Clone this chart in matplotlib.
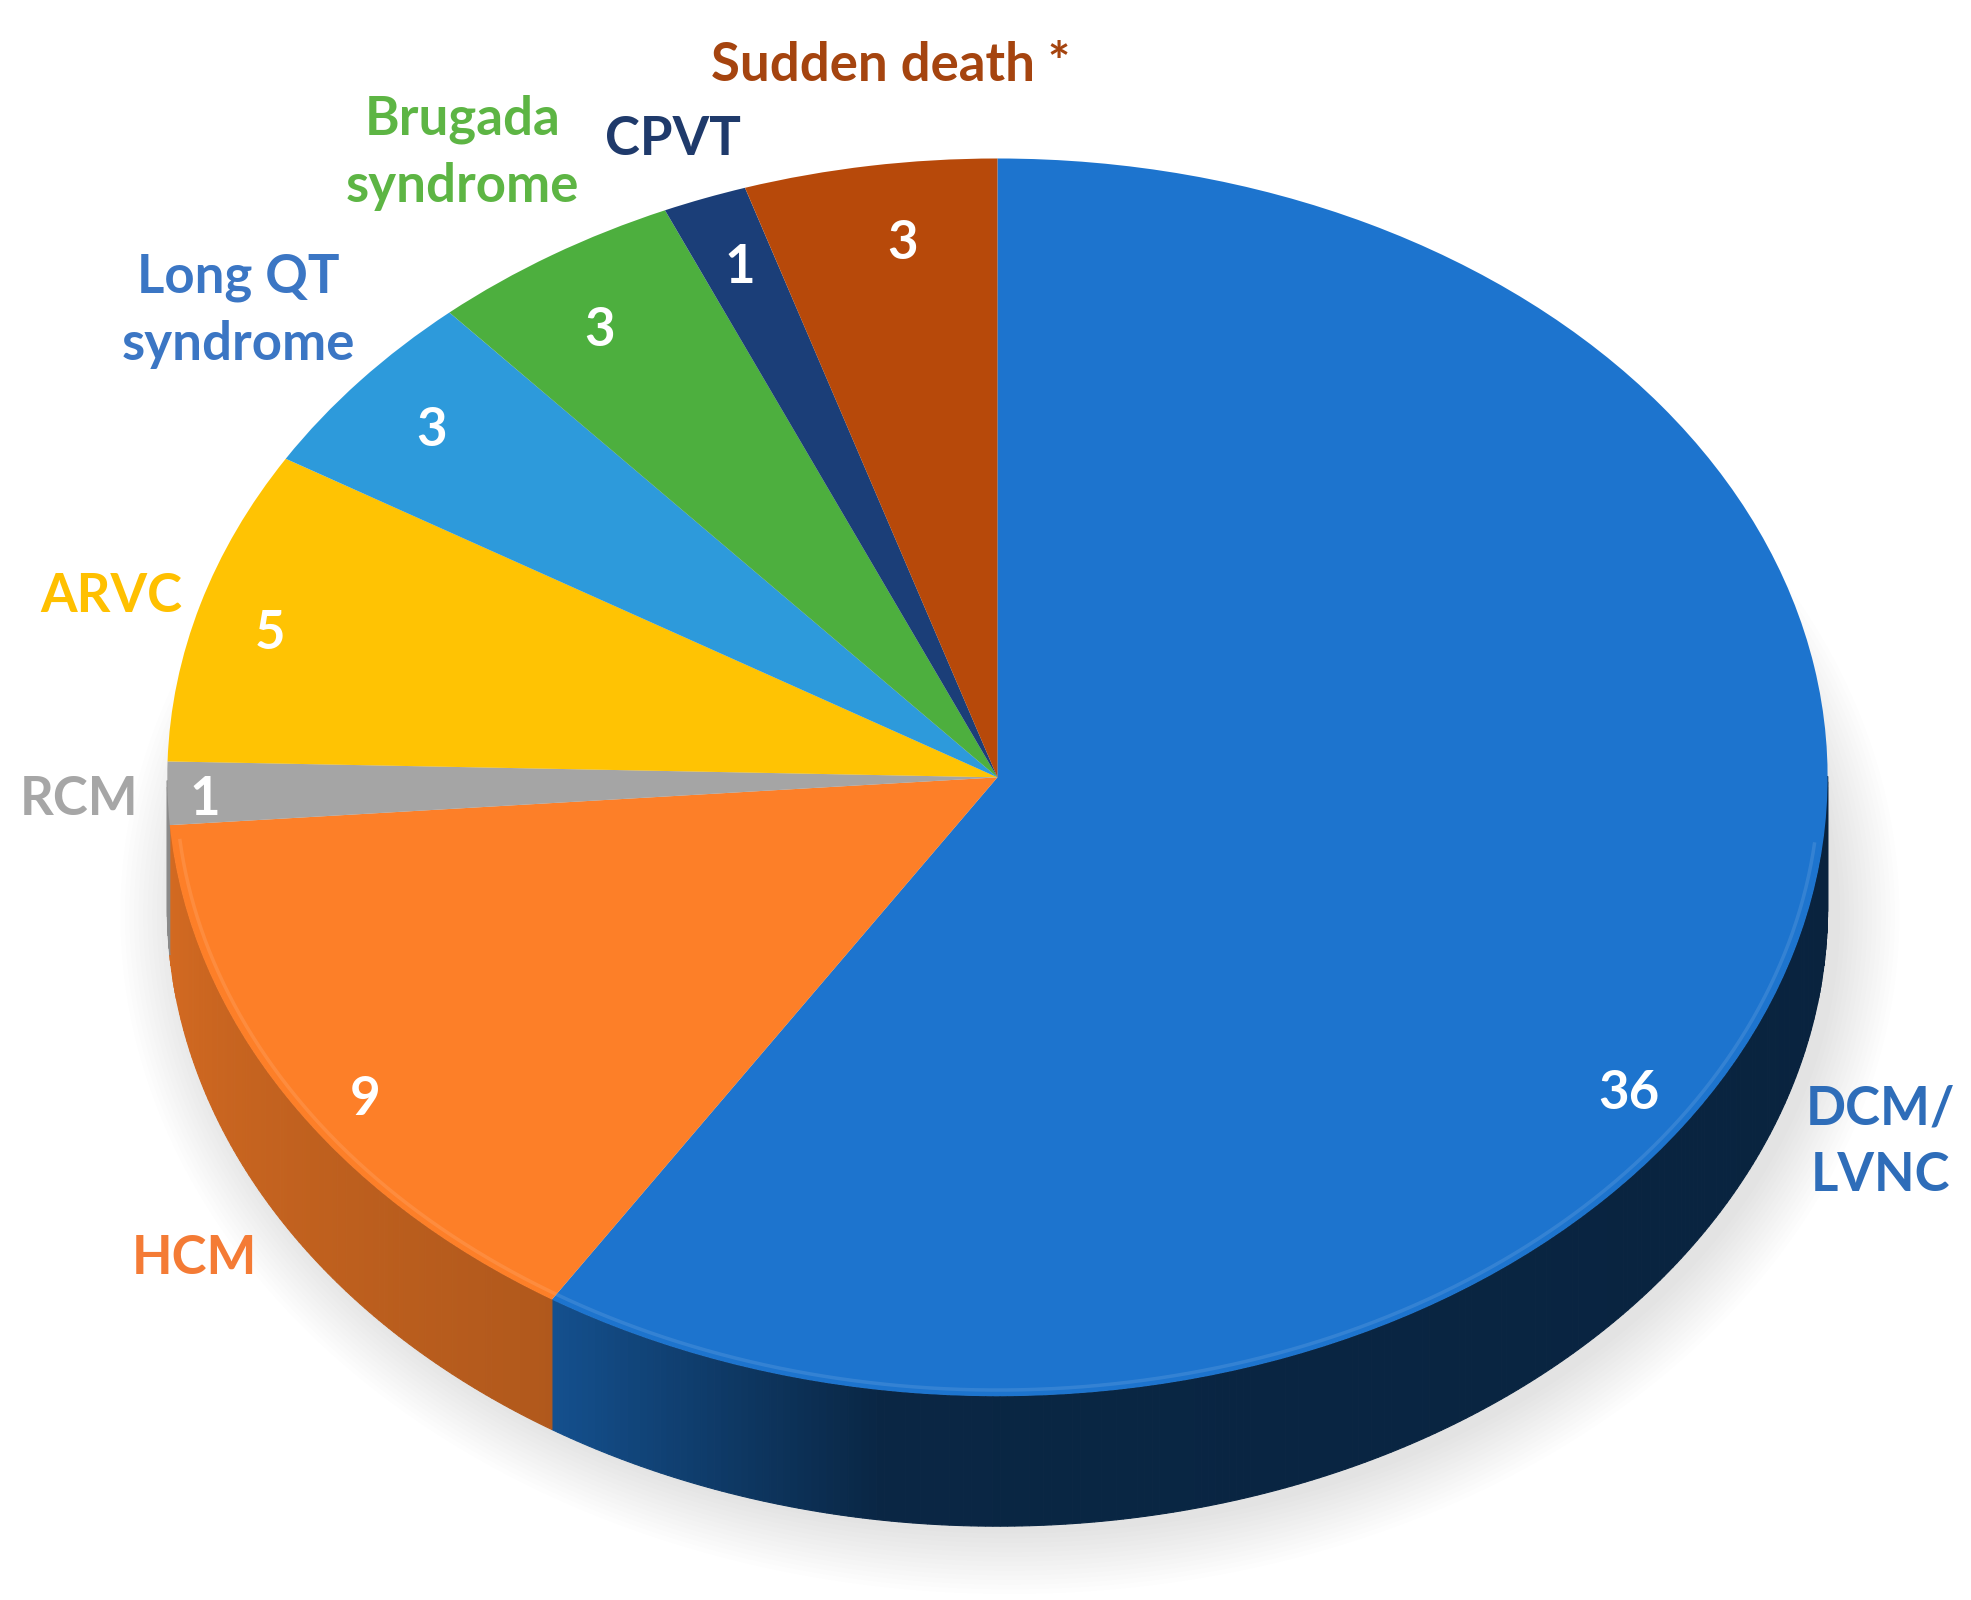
import matplotlib
matplotlib.use('Agg')
import matplotlib.pyplot as plt
from matplotlib.patches import Polygon, Ellipse
from matplotlib.colors import to_rgb
import numpy as np

# data (clockwise from 12 o'clock)
categories = ['DCM/\nLVNC', 'HCM', 'RCM', 'ARVC', 'Long QT\nsyndrome',
              'Brugada\nsyndrome', 'CPVT', 'Sudden death *']
counts = [36, 9, 1, 5, 3, 3, 1, 3]

slice_colors = ['#1D74CE', '#FD7F28', '#A5A5A5', '#FFC303', '#2D9ADB',
                '#4DAF3E', '#1B3E78', '#B7490A']
label_colors = ['#2E6DB9', '#F47B35', '#A6A6A6', '#FFC000', '#3B76C4',
                '#5DB544', '#1F3A6B', '#A5440F']

# layout (reference measured on a 1567x1272 grid)
W, H = 1567, 1272
cx, cy, rx, ry = 793, 618, 660, 492
depth = 0.21
val_r = [0.916, 0.923, 0.955, 0.906, 0.883, 0.866, 0.881, 0.870]
val_shift = [-17.7, 3.4, 0.7, 1.4, 0.4, 1.1, 0.0, -1.3]
cat_pos = [(1.064, -0.590), (-0.967, -0.778), (-1.106, -0.036), (-1.068, 0.293),
           (-0.914, 0.754), (-0.644, 1.010), (-0.391, 1.030), (-0.129, 1.150)]
font = ['Lato', 'DejaVu Sans']
fsize = 38

fig = plt.figure(figsize=(19.71, 16), dpi=100)
ax = fig.add_axes([0, 0, 1, 1])

wedges, _ = ax.pie(counts, startangle=90, counterclock=False, colors=slice_colors,
                   radius=1, wedgeprops=dict(linewidth=0, zorder=5))
ax.set_aspect('auto')
ax.set_xlim(-cx / rx, (W - cx) / rx)
ax.set_ylim(-(H - cy) / ry, cy / ry)
ax.axis('off')

# soft shadow under the pie
for i in range(14):
    ax.add_patch(Ellipse((0.015, -depth - 0.012), 2.0 + 0.011 * i, 2.0 + 0.015 * i,
                         facecolor='#808080', alpha=0.017, lw=0, zorder=1))

# side band of the pie: lighter on the left, dark on the front/right
for w, col in zip(wedges, slice_colors):
    base = np.array(to_rgb(col))
    ts = np.linspace(w.theta1, w.theta2, max(3, int((w.theta2 - w.theta1) * 2)))
    for a, b in zip(ts[:-1], ts[1:]):
        m = np.deg2rad((a + b) / 2)
        if np.sin(m) >= 0:
            continue
        tm = np.rad2deg(m) % 360
        f = np.interp(tm, [180, 237, 262, 360], [0.85, 0.70, 0.33, 0.30])
        c = base * f
        ra, rb = np.deg2rad(a), np.deg2rad(b)
        pts = [(np.cos(ra), np.sin(ra)), (np.cos(rb), np.sin(rb)),
               (np.cos(rb), np.sin(rb) - depth), (np.cos(ra), np.sin(ra) - depth)]
        ax.add_patch(Polygon(pts, closed=True, facecolor=c, edgecolor=c, lw=0.8, zorder=3))

    # faint light rim along the front edge of the top face
    rim = np.deg2rad(np.linspace(w.theta1, w.theta2, 200))
    rim = rim[np.sin(rim) < -0.1]
    if len(rim) > 1:
        light = base + (1 - base) * 0.3
        ax.plot(0.99 * np.cos(rim), 0.99 * np.sin(rim), color=light, lw=2.5,
                alpha=0.35, solid_capstyle='butt', zorder=6)

# value labels
for w, n, r, s in zip(wedges, counts, val_r, val_shift):
    mid = np.deg2rad((w.theta1 + w.theta2) / 2 + s)
    ax.text(r * np.cos(mid), r * np.sin(mid), str(n), color='white', fontsize=fsize,
            fontweight='bold', family=font, ha='center', va='center', zorder=7)

# category labels
for name, col, (x, y) in zip(categories, label_colors, cat_pos):
    ax.text(x, y, name, color=col, fontsize=fsize, fontweight='bold', family=font,
            ha='center', va='center', linespacing=1.45, zorder=7)

fig.savefig('out.png', dpi=100, facecolor='white')
